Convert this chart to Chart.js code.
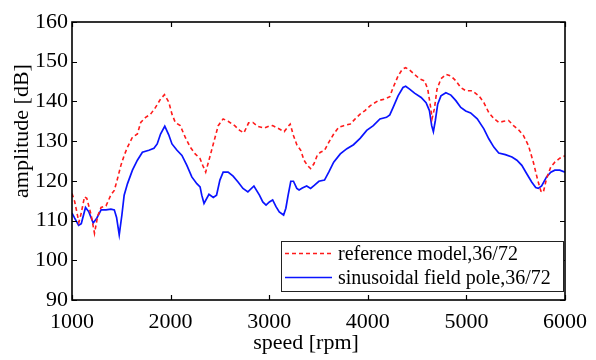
<!DOCTYPE html>
<html>
<head>
<meta charset="utf-8">
<script src="https://cdn.jsdelivr.net/npm/chart.js@4/dist/chart.umd.min.js"></script>
<style>
  html, body { margin: 0; padding: 0; background: #ffffff; }
  #wrap { width: 596px; height: 360px; }
</style>
</head>
<body>
<div id="wrap"><canvas id="c" width="596" height="360"></canvas></div>
<script>
// ---- tick labels ----
const xTicks = [1000, 2000, 3000, 4000, 5000, 6000];
const yTicks = [90, 100, 110, 120, 130, 140, 150, 160];

// ---- series labels ----
const seriesLabels = ['reference model,36/72', 'sinusoidal field pole,36/72'];

// ---- reference model, 36/72 (red dashed) ----
const refRpm = [
  1000,1027,1050,1070,1090,1127,1150,1194,1228,1261,
  1295,1345,1395,1429,1462,1496,1529,1563,1613,1663,
  1697,1747,1797,1847,1898,1938,1982,2014,2048,2098,
  2148,2199,2249,2299,2326,2356,2389,2433,2483,2533,
  2583,2650,2701,2744,2791,2835,2885,2952,3002,3035,
  3085,3152,3186,3213,3246,3280,3320,3353,3387,3420,
  3454,3487,3520,3561,3604,3654,3705,3755,3822,3872,
  3922,3972,4023,4106,4173,4223,4257,4307,4350,4384,
  4424,4474,4525,4575,4608,4635,4652,4675,4702,4742,
  4792,4843,4893,4943,4993,5060,5127,5177,5227,5278,
  5328,5378,5428,5478,5528,5579,5629,5679,5723,5756,
  5780,5813,5856,5897,5947,6000
];
const refDb = [
  116.8,114.8,112.0,109.6,111.5,116.0,115.6,111.4,106.8,111.2,
  113.3,113.7,116.5,117.6,120.6,123.9,126.4,128.5,131.0,131.8,
  134.7,136.0,136.8,138.5,140.6,141.7,139.8,136.8,134.7,133.9,
  131.0,128.5,126.8,125.6,123.9,122.2,125.2,129.3,133.9,135.6,
  135.0,133.9,132.7,132.1,134.6,134.7,133.7,133.3,133.8,133.9,
  133.3,132.4,133.5,134.3,131.4,129.1,127.7,125.2,123.9,123.1,
  124.3,126.4,127.2,127.7,129.7,131.8,133.5,133.9,134.3,135.6,
  136.8,137.7,138.9,140.2,140.6,141.2,143.5,146.4,148.1,148.5,
  147.9,146.8,145.7,145.2,143.1,138.9,135.7,138.1,143.1,145.7,
  146.8,146.4,145.2,143.5,142.7,142.7,141.4,139.7,137.2,135.7,
  134.7,135.0,135.2,133.9,132.9,131.4,128.9,124.7,120.2,117.4,
  117.1,120.6,123.5,124.7,125.7,126.3
];

// ---- sinusoidal field pole, 36/72 (blue solid) ----
const sinRpm = [
  1000,1027,1067,1094,1137,1171,1215,1251,1295,1345,
  1395,1429,1452,1479,1506,1529,1563,1613,1663,1714,
  1780,1831,1864,1898,1941,1981,2014,2065,2115,2165,
  2215,2266,2299,2316,2339,2389,2433,2466,2500,2533,
  2583,2634,2684,2734,2784,2845,2901,2935,2968,3002,
  3035,3069,3102,3146,3169,3192,3219,3246,3280,3303,
  3336,3380,3420,3460,3504,3561,3604,3654,3721,3788,
  3855,3922,3989,4056,4123,4190,4223,4257,4307,4357,
  4384,4424,4474,4541,4591,4625,4648,4665,4685,4709,
  4742,4792,4843,4893,4943,4993,5043,5110,5177,5227,
  5278,5328,5395,5462,5512,5562,5612,5662,5703,5729,
  5763,5813,5856,5897,5947,6000
];
const sinDb = [
  111.9,110.6,108.8,109.2,113.3,112.2,109.4,110.6,112.7,112.7,
  112.9,112.7,110.8,106.4,111.4,116.4,119.3,122.7,125.2,127.2,
  127.7,128.2,129.3,131.8,133.8,131.6,129.3,127.7,126.4,123.9,
  121.0,119.3,118.5,116.4,114.3,116.6,115.8,116.4,120.2,122.2,
  122.2,121.2,119.7,118.1,117.2,118.7,116.4,114.7,113.9,114.7,
  115.2,113.5,112.2,111.4,113.1,116.4,119.9,119.9,118.1,117.7,
  118.2,118.7,118.1,118.9,119.9,120.2,122.2,124.7,126.8,128.1,
  129.1,130.7,132.7,133.9,135.6,136.0,136.6,138.5,141.4,143.5,
  143.8,143.1,142.1,141.0,139.7,137.7,133.9,132.4,135.2,139.3,
  141.4,142.2,141.6,140.2,138.5,137.6,137.1,135.6,133.1,130.6,
  128.5,127.0,126.6,126.0,125.2,123.9,121.8,119.7,118.3,118.1,
  118.7,121.0,122.2,122.7,122.7,122.2
];

const toPoints = (xs, ys) => xs.map((x, i) => ({ x: x, y: ys[i] }));
const SERIF = '"Liberation Serif", "DejaVu Serif", serif';

// Box, inward tick marks, axis titles and in-plot legend
const framePlugin = {
  id: 'frame',
  afterDatasetsDraw(chart) {
    const ctx = chart.ctx;
    const a = chart.chartArea;
    const xs = chart.scales.x, ys = chart.scales.y;
    ctx.save();
    // inward ticks
    ctx.strokeStyle = '#000';
    ctx.lineWidth = 1.2;
    const tl = 5;
    ctx.beginPath();
    xTicks.forEach(v => {
      const px = Math.round(xs.getPixelForValue(v)) + 0.5;
      ctx.moveTo(px, a.bottom); ctx.lineTo(px, a.bottom - tl);
      ctx.moveTo(px, a.top); ctx.lineTo(px, a.top + tl);
    });
    yTicks.forEach(v => {
      const py = Math.round(ys.getPixelForValue(v)) + 0.5;
      ctx.moveTo(a.left, py); ctx.lineTo(a.left + tl, py);
      ctx.moveTo(a.right, py); ctx.lineTo(a.right - tl, py);
    });
    ctx.stroke();
    // legend box
    const lx0 = 281, ly0 = 241, lx1 = 563, ly1 = 291;
    ctx.fillStyle = '#fff';
    ctx.fillRect(lx0, ly0, lx1 - lx0, ly1 - ly0);
    ctx.lineWidth = 1;
    ctx.strokeStyle = '#222';
    ctx.strokeRect(lx0 + 0.5, ly0 + 0.5, lx1 - lx0, ly1 - ly0);
    const rows = [253.5, 277.5];
    chart.data.datasets.forEach((ds, i) => {
      ctx.save();
      ctx.strokeStyle = ds.borderColor;
      ctx.lineWidth = ds.borderWidth;
      ctx.setLineDash(ds.borderDash || []);
      ctx.beginPath();
      ctx.moveTo(285, rows[i]); ctx.lineTo(332, rows[i]);
      ctx.stroke();
      ctx.restore();
      ctx.fillStyle = '#000';
      ctx.font = '20px ' + SERIF;
      ctx.textAlign = 'left';
      ctx.textBaseline = 'alphabetic';
      ctx.fillText(ds.label, 338, rows[i] + 6);
    });
    // frame
    ctx.strokeStyle = '#000';
    ctx.lineWidth = 1.6;
    ctx.strokeRect(a.left, a.top, a.right - a.left, a.bottom - a.top);
    // axis titles
    ctx.fillStyle = '#000';
    ctx.font = '22px ' + SERIF;
    ctx.textAlign = 'center';
    ctx.textBaseline = 'alphabetic';
    ctx.fillText(xs.options.title.text, 306, 349);
    ctx.translate(28, 131);
    ctx.rotate(-Math.PI / 2);
    ctx.fillText(ys.options.title.text, 0, 0);
    ctx.restore();
  }
};

new Chart(document.getElementById('c'), {
  type: 'line',
  data: {
    datasets: [
      {
        label: seriesLabels[0],
        data: toPoints(refRpm, refDb),
        borderColor: '#ff1a1a',
        borderWidth: 1.6,
        borderDash: [4, 3],
        pointRadius: 0,
        fill: false,
        tension: 0
      },
      {
        label: seriesLabels[1],
        data: toPoints(sinRpm, sinDb),
        borderColor: '#0a14ff',
        borderWidth: 1.7,
        pointRadius: 0,
        fill: false,
        tension: 0
      }
    ]
  },
  options: {
    responsive: false,
    animation: false,
    devicePixelRatio: 1,
    layout: { padding: { top: 22, right: 26, left: 0, bottom: 0 } },
    plugins: { legend: { display: false }, tooltip: { enabled: false } },
    scales: {
      x: {
        type: 'linear',
        min: 1000, max: 6000,
        afterBuildTicks: s => { s.ticks = xTicks.map(v => ({ value: v })); },
        afterFit: s => { s.height = 60; },
        grid: { display: false, drawTicks: false, tickLength: 0 },
        border: { display: false },
        title: { display: false, text: 'speed [rpm]' },
        ticks: {
          autoSkip: false, maxRotation: 0, padding: 9,
          color: '#000', font: { family: SERIF, size: 22 },
          callback: v => String(v)
        }
      },
      y: {
        type: 'linear',
        min: 90, max: 160,
        afterBuildTicks: s => { s.ticks = yTicks.map(v => ({ value: v })); },
        afterFit: s => { s.width = 72; },
        grid: { display: false, drawTicks: false, tickLength: 0 },
        border: { display: false },
        title: { display: false, text: 'amplitude [dB]' },
        ticks: {
          autoSkip: false, padding: 4,
          color: '#000', font: { family: SERIF, size: 22 },
          callback: v => String(v)
        }
      }
    }
  },
  plugins: [framePlugin]
});
</script>
</body>
</html>
